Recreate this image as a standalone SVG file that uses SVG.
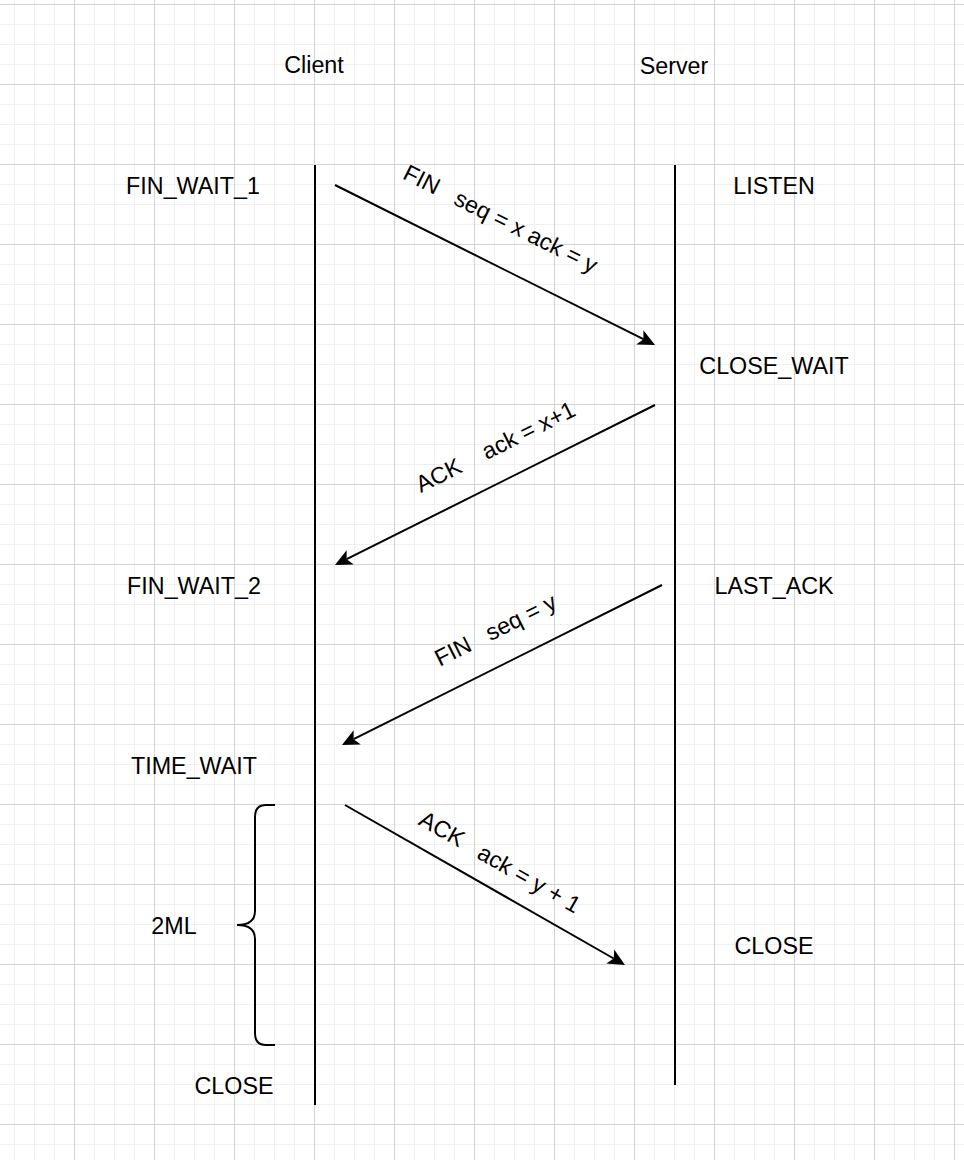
<svg xmlns="http://www.w3.org/2000/svg" width="964" height="1160" viewBox="0 0 964 1160">
  <style>
    .lbl { font-family: "Liberation Sans", Arial, Helvetica, sans-serif; font-size: 23.3px; fill: #000; text-anchor: middle; }
    .life { stroke: #000; stroke-width: 2; fill: none; }
    .msg { stroke: #000; stroke-width: 2; fill: none; marker-end: url(#arrow); }
    .brace { stroke: #000; stroke-width: 2; fill: none; }
  </style>
  <defs>
    <pattern id="minor" x="14" y="4" width="20" height="20" patternUnits="userSpaceOnUse">
      <rect x="0" y="0" width="1" height="20" fill="#f0f0f0"/>
      <rect x="0" y="0" width="20" height="1" fill="#f0f0f0"/>
    </pattern>
    <pattern id="major" x="74" y="4" width="80" height="80" patternUnits="userSpaceOnUse">
      <rect x="0" y="0" width="1" height="80" fill="#d4d4d4"/>
      <rect x="0" y="0" width="80" height="1" fill="#d4d4d4"/>
    </pattern>
    <marker id="arrow" markerUnits="userSpaceOnUse" markerWidth="30" markerHeight="30" viewBox="-10 -15 30 30" refX="0" refY="0" orient="auto">
      <path d="M13,0 L-4,-8 L0,0 L-4,8 Z" fill="#000" stroke="none"/>
    </marker>
  </defs>

  <g id="background">
    <rect width="964" height="1160" fill="#ffffff"/>
    <rect width="964" height="1160" fill="url(#minor)"/>
    <rect width="964" height="1160" fill="url(#major)"/>
  </g>

  <g id="client">
    <text class="lbl" x="314" y="73.3">Client</text>
    <line class="life" x1="315" y1="165" x2="315" y2="1105"/>
  </g>
  <g id="server">
    <text class="lbl" x="674" y="74">Server</text>
    <line class="life" x1="675" y1="165" x2="675" y2="1085"/>
  </g>

  <g id="state-fin-wait-1"><text class="lbl" x="193" y="193.5">FIN_WAIT_1</text></g>
  <g id="state-listen"><text class="lbl" x="774" y="193.5">LISTEN</text></g>
  <g id="state-close-wait"><text class="lbl" x="774" y="373.5">CLOSE_WAIT</text></g>
  <g id="state-fin-wait-2"><text class="lbl" x="194" y="593.5">FIN_WAIT_2</text></g>
  <g id="state-last-ack"><text class="lbl" x="774" y="593.5">LAST_ACK</text></g>
  <g id="state-time-wait"><text class="lbl" x="194" y="773.5">TIME_WAIT</text></g>
  <g id="state-2ml"><text class="lbl" x="174" y="933.5">2ML</text></g>
  <g id="state-close-server"><text class="lbl" x="774" y="953.5">CLOSE</text></g>
  <g id="state-close-client"><text class="lbl" x="234" y="1093.5">CLOSE</text></g>

  <g id="brace">
    <path class="brace" d="M275,805 H266 Q255,805 255,817 V911 Q255,925 237,925 Q255,925 255,939 V1033 Q255,1045 266,1045 H275"/>
  </g>

  <g id="connectors">
    <line class="msg" x1="335" y1="185" x2="643.4" y2="339.2"/>
    <line class="msg" x1="655" y1="405" x2="346.6" y2="559.2"/>
    <line class="msg" x1="662" y1="585" x2="353.6" y2="739.2"/>
    <line class="msg" x1="345" y1="805" x2="613.7" y2="958.5"/>
  </g>

  <g id="connector-labels">
    <text class="lbl" x="497" y="226" transform="rotate(26.57 497 226)" xml:space="preserve">FIN   seq = x ack = y</text>
    <text class="lbl" x="499" y="454" transform="rotate(-26.57 499 454)" xml:space="preserve">ACK    ack = x+1</text>
    <text class="lbl" x="499" y="637" transform="rotate(-26.57 499 637)" xml:space="preserve">FIN   seq = y</text>
    <text class="lbl" x="496" y="869" transform="rotate(29.74 496 869)" xml:space="preserve">ACK   ack = y + 1</text>
  </g>
</svg>
